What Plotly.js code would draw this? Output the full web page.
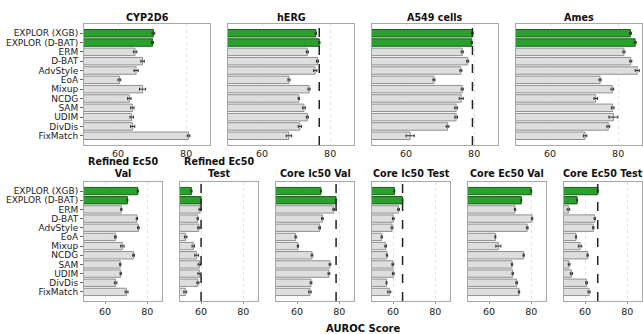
<!DOCTYPE html>
<html><head><meta charset="utf-8">
<script src="https://cdn.plot.ly/plotly-3.0.1.min.js"></script>
<style>html,body{margin:0;padding:0;background:#fff}#chart{width:643px;height:334px}</style>
</head><body><div id="chart"></div>
<script>
// ---- data ----
const methods = ["EXPLOR (XGB)", "EXPLOR (D-BAT)", "ERM", "D-BAT", "AdvStyle", "EoA", "Mixup", "NCDG", "SAM", "UDIM", "DivDis", "FixMatch"];
const explorCount = 2;
const panelTitles = ["CYP2D6", "hERG", "A549 cells", "Ames",
  "Refined Ec50<br>Val", "Refined Ec50<br>Test", "Core Ic50 Val", "Core Ic50 Test", "Core Ec50 Val", "Core Ec50 Test"];

const cyp2d6      = [70.4, 70.1, 65.0, 67.2, 65.3, 60.4, 67.2, 63.3, 64.2, 64.0, 64.3, 80.7];
const cyp2d6Err   = [0.4, 0.3, 0.5, 0.5, 0.6, 0.4, 0.9, 0.5, 0.5, 0.5, 0.6, 0.4];
const herg        = [75.8, 76.8, 73.3, 76.3, 75.6, 67.9, 73.8, 70.8, 72.3, 73.3, 71.1, 67.9];
const hergErr     = [0.2, 0.2, 0.3, 0.3, 0.5, 0.3, 0.3, 0.2, 0.4, 0.3, 0.5, 0.8];
const a549        = [79.5, 79.3, 76.5, 78.1, 76.1, 68.2, 76.5, 76.2, 74.7, 74.7, 72.2, 61.2];
const a549Err     = [0.2, 0.2, 0.3, 0.3, 0.3, 0.3, 0.3, 0.6, 0.4, 0.4, 0.4, 1.2];
const ames        = [83.6, 85.0, 81.7, 83.7, 85.6, 74.7, 78.3, 73.4, 78.4, 78.6, 77.1, 70.3];
const amesErr     = [0.3, 0.3, 0.3, 0.3, 0.6, 0.3, 0.4, 0.5, 0.4, 1.3, 0.4, 0.5];
const refEc50Val  = [75.5, 70.6, 67.7, 75.1, 75.8, 64.9, 68.2, 73.5, 67.2, 67.4, 65.0, 70.2];
const refEc50ValErr  = [0.3, 0.2, 0.3, 0.3, 0.4, 0.4, 0.8, 0.4, 0.3, 0.3, 0.6, 0.7];
const refEc50Test = [55.4, 60.0, 59.5, 58.4, 58.9, 52.7, 56.3, 57.9, 59.2, 59.2, 58.5, 52.5];
const refEc50TestErr = [0.3, 0.2, 0.5, 0.3, 0.5, 0.6, 0.6, 0.9, 0.6, 0.7, 0.5, 0.7];
const coreIc50Val  = [71.3, 78.5, 77.4, 72.0, 70.7, 59.3, 60.4, 67.1, 75.6, 75.1, 66.6, 66.1];
const coreIc50ValErr  = [0.2, 0.3, 0.4, 0.4, 0.4, 0.3, 0.3, 0.4, 0.4, 0.4, 0.4, 0.6];
const coreIc50Test = [60.6, 64.5, 62.6, 60.1, 59.5, 54.6, 56.5, 57.1, 59.9, 60.1, 56.9, 58.2];
const coreIc50TestErr = [0.2, 0.2, 0.4, 0.4, 0.4, 0.3, 0.4, 0.3, 0.4, 0.4, 0.2, 0.7];
const coreEc50Val  = [80.0, 75.3, 72.3, 80.4, 78.1, 63.0, 64.4, 76.4, 70.9, 71.2, 73.1, 74.2];
const coreEc50ValErr  = [0.2, 0.2, 0.3, 0.3, 0.4, 0.2, 1.2, 0.3, 0.3, 0.3, 0.4, 0.3];
const coreEc50Test = [66.0, 56.2, 52.1, 64.6, 63.9, 55.7, 57.6, 61.2, 52.4, 53.5, 60.7, 61.9];
const coreEc50TestErr = [0.2, 0.2, 0.6, 0.3, 0.3, 0.2, 0.8, 0.3, 0.4, 0.5, 0.4, 0.5];
const xTickVals = [60, 80];
const xTickText = ["60", "80"];
const xAxisTitle = "AUROC Score";

// ---- build ----
const panels = [
  [cyp2d6, cyp2d6Err], [herg, hergErr], [a549, a549Err], [ames, amesErr],
  [refEc50Val, refEc50ValErr], [refEc50Test, refEc50TestErr],
  [coreIc50Val, coreIc50ValErr], [coreIc50Test, coreIc50TestErr],
  [coreEc50Val, coreEc50ValErr], [coreEc50Test, coreEc50TestErr]
];
const W = 643, H = 334;
const geom = [];
[84, 228, 372, 516].forEach(l => geom.push({l: l, w: 126, t: 24, b: 145, row: 0}));
[84, 180, 276, 372, 468, 564].forEach(l => geom.push({l: l, w: 78, t: 182, b: 301, row: 1}));

const FONT = "DejaVu Sans, Liberation Sans, sans-serif";
const GREEN = "#2ca02c", GREEN_EDGE = "#1c5e1c";
const GRAY = "#dedede", GRAY_EDGE = "#8f8f8f";

const traces = [], shapes = [], annotations = [];
const layout = {
  width: W, height: H, margin: {l: 0, r: 0, t: 0, b: 0},
  paper_bgcolor: "#fff", plot_bgcolor: "#fff", showlegend: false,
  font: {family: FONT, color: "#222"}, bargap: 0.2
};

panels.forEach((p, i) => {
  const [vals, errs] = p;
  const n = i + 1;
  const xa = "x" + (n === 1 ? "" : n), ya = "y" + (n === 1 ? "" : n);
  const g = geom[i];
  const firstInRow = (i === 0 || i === 4);
  traces.push({
    type: "bar", orientation: "h", x: vals, y: methods, xaxis: xa, yaxis: ya,
    width: 0.8,
    marker: {
      color: methods.map((m, k) => k < explorCount ? GREEN : GRAY),
      line: {color: methods.map((m, k) => k < explorCount ? GREEN_EDGE : GRAY_EDGE), width: 1}
    },
    error_x: {type: "data", array: errs, visible: true, color: "#333", thickness: 1, width: 1.5},
    hoverinfo: "x+y"
  });
  const xKey = "xaxis" + (n === 1 ? "" : n), yKey = "yaxis" + (n === 1 ? "" : n);
  layout[xKey] = {
    domain: [g.l / W, (g.l + g.w) / W], anchor: ya, range: [50, 87],
    tickmode: "array", tickvals: xTickVals, ticktext: xTickText,
    tickfont: {size: 9.5, family: FONT, color: "#222"},
    ticks: g.row === 0 ? "" : "outside", ticklen: 2, tickcolor: "#999",
    showgrid: true, gridcolor: "#e2e2e2", griddash: "dot", gridwidth: 1,
    showline: true, linecolor: "#a8a8a8", linewidth: 1, mirror: true, zeroline: false,
    fixedrange: true
  };
  layout[yKey] = {
    domain: [1 - g.b / H, 1 - g.t / H], anchor: xa, type: "category",
    categoryorder: "array", categoryarray: methods, range: [11.99, -0.99],
    tickmode: "array", tickvals: methods, ticktext: methods,
    showticklabels: firstInRow, tickfont: {size: 9, family: FONT, color: "#222"},
    ticks: firstInRow ? "outside" : "", ticklen: 3, tickcolor: "#666",
    showline: true, linecolor: "#a8a8a8", linewidth: 1, mirror: true, showgrid: false,
    zeroline: false, fixedrange: true
  };
  // dashed reference line when EXPLOR is best
  const bestExplor = Math.max(...vals.slice(0, explorCount));
  const bestOther = Math.max(...vals.slice(explorCount));
  if (bestExplor >= bestOther) {
    shapes.push({type: "line", xref: xa, yref: ya + " domain", x0: bestExplor, x1: bestExplor, y0: 0, y1: 1,
      line: {color: "#222", width: 1.5, dash: "dash"}});
  }
  const titleBottom = g.row === 0 ? g.t + 1 : g.t - 1;
  annotations.push({
    text: "<b>" + panelTitles[i] + "</b>", xref: "paper", yref: "paper",
    x: (g.l + g.w / 2) / W, y: 1 - titleBottom / H, xanchor: "center", yanchor: "bottom",
    showarrow: false, font: {size: 9.6, family: FONT, color: "#111"}
  });
});
annotations.push({
  text: "<b>" + xAxisTitle + "</b>", xref: "paper", yref: "paper",
  x: 363 / W, y: 1 - 328 / H, xanchor: "center", yanchor: "middle",
  showarrow: false, font: {size: 10, family: FONT, color: "#111"}
});
layout.shapes = shapes;
layout.annotations = annotations;

Plotly.newPlot("chart", traces, layout, {displayModeBar: false, staticPlot: true});
</script>
</body></html>
